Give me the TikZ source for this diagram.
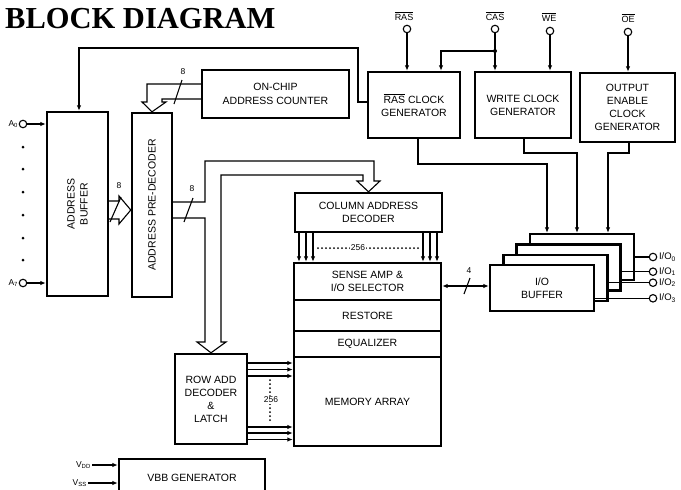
\documentclass[tikz,border=0pt]{standalone}
\usepackage{fontspec}
\setmainfont{Liberation Sans}
\newfontfamily\titlefont{Liberation Serif}
\usetikzlibrary{arrows.meta}
\newcommand\ovl[1]{$\overline{\hbox{#1}}$}
\begin{document}
\begin{tikzpicture}[x=1pt,y=-1pt,
  font=\fontsize{10.5}{13}\selectfont,
  blk/.style={draw, line width=2.4pt, fill=white, align=center, inner sep=0pt},
  wire/.style={line width=1.1pt, line join=miter},
  tip/.style={-{Latex[length=5.5pt,width=4.5pt]}},
  arr/.style={wire, tip},
  pin/.style={circle, draw, line width=1.1pt, minimum size=7.5pt, inner sep=0pt, fill=white},
  small/.style={font=\fontsize{8.5}{10}\selectfont, inner sep=1pt},
  lbl/.style={font=\fontsize{9}{10}\selectfont, inner sep=0pt},
  iolbl/.style={font=\fontsize{9.5}{10}\selectfont, inner sep=0pt, anchor=west},
  dots/.style={line width=2pt, dash pattern=on 0pt off 4pt, line cap=round},
]
\useasboundingbox (0,0) rectangle (681,490);

% title
\node[anchor=base west, inner sep=0pt, font=\titlefont\bfseries\fontsize{30.5}{30}\selectfont] (title) at (5,28) {BLOCK DIAGRAM};

% blocks
\node[blk, minimum width=61pt, minimum height=184pt] (ab) at (77.5,204) {};
\node[rotate=90, align=center] at (ab.center) {ADDRESS\\BUFFER};
\node[blk, minimum width=40pt, minimum height=184pt] (pd) at (152,205) {};
\node[rotate=90] at (pd.center) {ADDRESS PRE-DECODER};
\node[blk, minimum width=147pt, minimum height=48pt] (cnt) at (275.5,94) {ON-CHIP\\[1pt]ADDRESS COUNTER};
\node[blk, minimum width=92pt, minimum height=66pt] (ras) at (414,105) {\ovl{RAS} CLOCK\\GENERATOR};
\node[blk, minimum width=96pt, minimum height=66pt] (wr) at (523,105) {WRITE CLOCK\\GENERATOR};
\node[blk, minimum width=95pt, minimum height=69pt] (oe) at (627.5,107.5) {OUTPUT\\ENABLE\\CLOCK\\GENERATOR};
\node[blk, minimum width=147pt, minimum height=39pt] (col) at (368.5,212.5) {COLUMN ADDRESS\\DECODER};
\node[blk, minimum width=147pt, minimum height=37pt] (sense) at (367.5,281.5) {SENSE AMP \&\\I/O SELECTOR};
\node[blk, minimum width=147pt, minimum height=31pt] (rest) at (367.5,315.5) {RESTORE};
\node[blk, minimum width=147pt, minimum height=26pt] (equ) at (367.5,344) {EQUALIZER};
\node[blk, minimum width=147pt, minimum height=89pt] (mem) at (367.5,401.5) {MEMORY ARRAY};
\node[blk, minimum width=72pt, minimum height=90pt] (row) at (211,399) {ROW ADD\\DECODER\\\&\\LATCH};

% I/O buffer stack
\node[blk, minimum width=104pt, minimum height=46pt] (io4) at (581.9,257.1) {};
\node[blk, minimum width=104pt, minimum height=46pt] (io3) at (568.6,267.4) {};
\node[blk, minimum width=104pt, minimum height=46pt] (io2) at (555.3,277.7) {};
\node[blk, minimum width=104pt, minimum height=46pt] (io1) at (542,288) {I/O\\BUFFER};

% VBB generator (cut at page bottom)
\begin{scope}
\clip (0,0) rectangle (681,490);
\node[blk, minimum width=146pt, minimum height=37pt] (vbb) at (192,477.5) {VBB GENERATOR};
\end{scope}

% control inputs
\node[pin] (pras) at (407,29) {};
\node[lbl] (lras) at (404,16) {\ovl{RAS}};
\draw[arr] (pras) -- (pras |- ras.north);
\node[pin] (pcas) at (495,29) {};
\node[lbl] (lcas) at (495,16) {\ovl{CAS}};
\coordinate (jcas) at (495,51);
\draw[arr] (pcas) -- (pcas |- wr.north);
\fill (jcas) circle (2pt);
\draw[arr] (jcas) -| ([xshift=27pt]ras.north);
\node[pin] (pwe) at (550,31) {};
\node[lbl] (lwe) at (549,17) {\ovl{WE}};
\draw[arr] (pwe) -- (pwe |- wr.north);
\node[pin] (poe) at (628,32) {};
\node[lbl] (loe) at (628,18) {\ovl{OE}};
\draw[arr] (poe) -- (poe |- oe.north);

% feedback RAS clock -> address buffer
\draw[arr] ([yshift=3pt]ras.west) -| (358,48) -| ([xshift=1.5pt]ab.north);

% clock generators -> I/O buffer
\coordinate (x547) at (547,0);
\coordinate (x577) at (577,0);
\coordinate (x608) at (608,0);
\draw[arr] ([xshift=4pt]ras.south) |- (547,164) -- (x547 |- io4.north);
\draw[arr] ([xshift=1pt]wr.south) |- (577,153) -- (x577 |- io4.north);
\draw[arr] ([xshift=1.5pt]oe.south) |- (608,153) -- (x608 |- io4.north);

% I/O pins
\node[pin] (o0) at (653,257) {};
\node[pin] (o1) at (653,271.7) {};
\node[pin] (o2) at (653,282.7) {};
\node[pin] (o3) at (653,298.3) {};
\draw[wire] (io4.east |- o0) -- (o0);
\draw[wire] (io3.east |- o1) -- (o1);
\draw[wire] (io2.east |- o2) -- (o2);
\draw[wire] (io1.east |- o3) -- (o3);
\node[iolbl] at ([xshift=1.5pt]o0.east) {I/O\textsubscript{0}};
\node[iolbl] at ([xshift=1.5pt]o1.east) {I/O\textsubscript{1}};
\node[iolbl] at ([xshift=1.5pt]o2.east) {I/O\textsubscript{2}};
\node[iolbl] at ([xshift=1.5pt]o3.east) {I/O\textsubscript{3}};

% sense amp <-> I/O buffer
\coordinate (y286) at (0,286);
\draw[wire, {Latex[length=5.5pt,width=4.5pt]}-{Latex[length=5.5pt,width=4.5pt]}] (sense.east |- y286) -- (io1.west |- y286);
\draw[wire] (464,294) -- (470,278);
\node[small] at (469,271) {4};

% column decoder -> sense amp
\foreach \x in {299,306,313,423,430,437} {
  \coordinate (t) at (\x,0);
  \draw[arr] (t |- col.south) -- (t |- sense.north);
}
\draw[dots] (318,248) -- (420,248);
\node[small, fill=white] at (358,248) {256};

% row decoder -> memory array
\foreach \y in {363,369.5,376,427,433,439.5} {
  \coordinate (t) at (0,\y);
  \draw[arr] (row.east |- t) -- (mem.west |- t);
}
\draw[dots] (270,380) -- (270,423);
\node[small, fill=white, inner sep=0.5pt] at (271,400) {256};

% address inputs
\node[pin] (a0) at (23,124) {};
\node[pin] (a7) at (23,283) {};
\draw[arr] (a0) -- (a0 -| ab.west);
\draw[arr] (a7) -- (a7 -| ab.west);
\node[small, anchor=east, inner sep=0.5pt] at (a0.west) {A\textsubscript{0}};
\node[small, anchor=east, inner sep=0.5pt] at (a7.west) {A\textsubscript{7}};
\foreach \y in {147,169,192,215,238,260} \fill (23,\y) circle (1.5pt);

% counter -> pre-decoder (wide arrow)
\coordinate (y84) at (0,84);
\coordinate (y99) at (0,99);
\draw[wire] (cnt.west |- y99) -- (162,99) -- (162,102) -- (166,102) -- (pd.north) -- (142,102) -- (147,102) -- (147,84) -- (cnt.west |- y84);
\draw[wire] (174,104) -- (182,80);
\node[small] at (183,72) {8};

% address buffer -> pre-decoder (wide arrow)
\coordinate (y201) at (0,201);
\coordinate (y210) at (0,210);
\coordinate (y219) at (0,219);
\draw[wire] (ab.east |- y201) -- (119,201) -- (119,196) -- (pd.west |- y210) -- (119,224) -- (119,219) -- (ab.east |- y219);
\draw[wire] (110,222) -- (121,197);
\node[small] at (119,186) {8};

% pre-decoder -> column / row decoders (bus)
\coordinate (y202) at (0,202);
\coordinate (y218) at (0,218);
\draw[wire] (pd.east |- y202) -- (205,202) -- (205,161) -- (374,161) -- (374,181) -- (380,181) -- (col.north)
  -- (357,181) -- (363,181) -- (363,175) -- (221,175) -- (221,342) -- (226,342) -- (row.north)
  -- (197,342) -- (205,342) -- (205,218) -- (pd.east |- y218);
\draw[wire] (184,222) -- (193,198);
\node[small] at (192,189) {8};

% supply inputs
\node[small, anchor=east] (vdd) at (92,465) {V\textsubscript{DD}};
\node[small, anchor=east] (vss) at (88,483) {V\textsubscript{SS}};
\draw[arr] (vdd) -- (vdd -| vbb.west);
\draw[arr] (vss) -- (vss -| vbb.west);
\end{tikzpicture}
\end{document}
